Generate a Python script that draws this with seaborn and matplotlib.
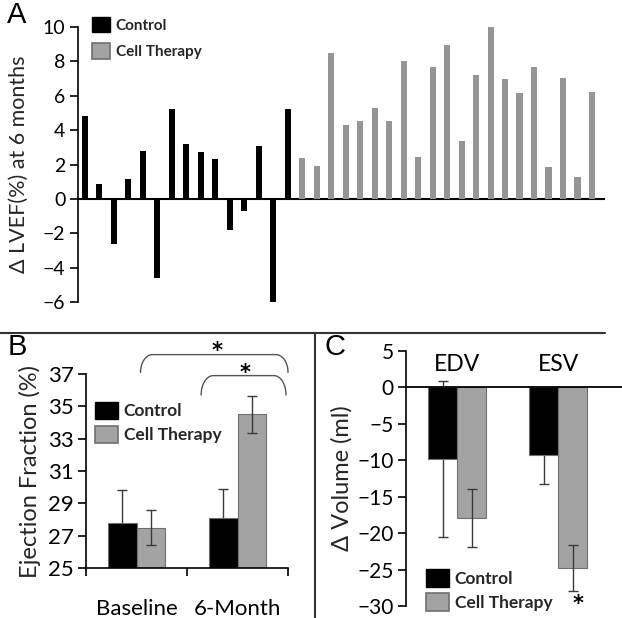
import numpy as np
import pandas as pd
import matplotlib
matplotlib.use('Agg')
import matplotlib.pyplot as plt
import seaborn as sns
from matplotlib.patches import Patch
from matplotlib.lines import Line2D

# Panel A: change in LVEF per patient
control_delta = [4.8, 0.85, -2.6, 1.15, 2.8, -4.6, 5.2, 3.2, 2.7, 2.3, -1.8, -0.7, 3.1, -6.0, 5.25]
cell_delta = [2.35, 1.9, 8.5, 4.3, 4.55, 5.3, 4.55, 8.0, 2.45, 7.7, 8.95, 3.35,
              7.2, 10.0, 7.0, 6.15, 7.7, 1.85, 7.05, 1.3, 6.2]

# Panel B: ejection fraction
timepoints = ['Baseline', '6-Month']
ef_control = [27.8, 28.1]
ef_control_err = [2.0, 1.8]
ef_cell = [27.5, 34.5]
ef_cell_err = [1.1, 1.15]

# Panel C: change in volumes
volumes = ['EDV', 'ESV']
vol_control = [-9.8, -9.3]
vol_control_err = [10.7, 3.9]
vol_cell = [-17.9, -24.8]
vol_cell_err = [4.0, 3.2]

groups = ['Control', 'Cell Therapy']
BLACK = '#000000'
GRAY_A = '#959595'
GRAY = '#a3a3a3'
EDGE = '#6f6f6f'

sns.set_theme(style='white')
plt.rcParams['font.family'] = ['Lato', 'DejaVu Sans']

W, H = 622, 618
fig = plt.figure(figsize=(W / 100, H / 100), dpi=100)


def box(x0, x1, ytop, ybot):
    return [x0 / W, 1 - ybot / H, (x1 - x0) / W, (ybot - ytop) / H]


def style_left(ax, size):
    sns.despine(ax=ax, bottom=True)
    ax.spines['left'].set_color('black')
    ax.spines['left'].set_linewidth(1.2)
    ax.tick_params(axis='y', left=True, length=6, width=1.2, color='black',
                   labelsize=size, pad=3, labelcolor='black')


def legend(ax, x, y, size, hl, hh, spacing):
    handles = [Patch(facecolor=BLACK, edgecolor=BLACK),
               Patch(facecolor=GRAY, edgecolor=EDGE, linewidth=1.2)]
    ax.legend(handles, groups, loc='upper left', bbox_to_anchor=(x / W, 1 - y / H),
              bbox_transform=fig.transFigure, frameon=False, borderpad=0,
              borderaxespad=0, handlelength=hl, handleheight=hh,
              handletextpad=0.35, labelspacing=spacing,
              prop={'weight': 'bold', 'size': size})


def star(x, y):
    fig.text(x / W, 1 - y / H, '*', ha='center', va='center', fontsize=15,
             fontweight='bold', family='DejaVu Sans', color='black')


# ---------------- Panel A ----------------
axA = fig.add_axes(box(78, 605, 27, 302))
dfA = pd.DataFrame({
    'subject': np.arange(len(control_delta) + len(cell_delta)),
    'delta': control_delta + cell_delta,
    'group': ['Control'] * len(control_delta) + ['Cell Therapy'] * len(cell_delta),
})
sns.barplot(data=dfA, x='subject', y='delta', hue='group', dodge=False, width=0.42,
            palette={'Control': BLACK, 'Cell Therapy': GRAY_A}, legend=False,
            linewidth=0, ax=axA)
axA.set_xlim(-0.48, 35.9)
axA.set_ylim(-6, 10)
axA.set_yticks(range(-6, 11, 2))
axA.set_xticks([])
axA.set_xlabel('')
axA.axhline(0, color='black', lw=1.5, zorder=0)
axA.set_ylabel('Δ LVEF(%) at 6 months', fontsize=15.5, labelpad=10)
style_left(axA, 14)
legend(axA, 92, 17, 11, 1.2, 1.15, 0.7)

# ---------------- Panel B ----------------
axB = fig.add_axes(box(86, 288, 374, 568))
dfB = pd.DataFrame({
    'time': timepoints * 2,
    'ef': ef_control + ef_cell,
    'group': ['Control'] * 2 + ['Cell Therapy'] * 2,
})
sns.barplot(data=dfB, x='time', y='ef', hue='group', width=0.56,
            palette={'Control': BLACK, 'Cell Therapy': GRAY}, legend=False,
            edgecolor=EDGE, linewidth=0.8, ax=axB)
xpos = np.arange(len(timepoints))
axB.errorbar(xpos - 0.14, ef_control, yerr=ef_control_err, fmt='none', zorder=0.5,
             ecolor='#3a3a3a', elinewidth=1, capsize=3.5, capthick=1)
axB.errorbar(xpos + 0.14, ef_cell, yerr=ef_cell_err, fmt='none', zorder=3,
             ecolor='#3a3a3a', elinewidth=1, capsize=3.5, capthick=1)
axB.set_xlim(-0.5, 1.5)
axB.set_ylim(25, 37)
axB.set_yticks(range(25, 38, 2))
axB.set_xlabel('')
axB.set_ylabel('Ejection Fraction (%)', fontsize=17, labelpad=5)
sns.despine(ax=axB)
axB.spines['left'].set_color('black')
axB.spines['bottom'].set_color('black')
axB.spines['left'].set_linewidth(1.2)
axB.spines['bottom'].set_linewidth(1.2)
axB.tick_params(axis='y', left=True, length=6, width=1.2, color='black',
                labelsize=16, pad=3, labelcolor='black')
axB.set_xticks([-0.5, 0.5, 1.5], minor=True)
axB.tick_params(axis='x', which='minor', bottom=True, length=6, width=1.2, color='black')
axB.tick_params(axis='x', which='major', bottom=False, labelsize=16, pad=16,
                labelcolor='black')
legend(axB, 95, 402, 12.5, 1.3, 1.1, 0.4)


def bracket(ax, x0, x1, ytop, ydrop):
    t = np.linspace(0, 1, 60)
    r = 0.12
    xs = np.concatenate([x0 + r * (1 - np.cos(t * np.pi / 2)),
                         [x0 + r, x1 - r],
                         x1 - r + r * np.sin(t * np.pi / 2)])
    ys = np.concatenate([ytop - ydrop + ydrop * np.sin(t * np.pi / 2),
                         [ytop, ytop],
                         ytop - ydrop * (1 - np.cos(t * np.pi / 2))])
    ax.plot(xs, ys, color='#555555', lw=1, clip_on=False)


bracket(axB, 0.04, 1.5, 38.2, 1.1)
bracket(axB, 0.64, 1.48, 36.9, 1.2)
star(217, 351)
star(245, 373)

# ---------------- Panel C ----------------
axC = fig.add_axes(box(406, 622, 351, 606))
dfC = pd.DataFrame({
    'vol': volumes * 2,
    'delta': vol_control + vol_cell,
    'group': ['Control'] * 2 + ['Cell Therapy'] * 2,
})
sns.barplot(data=dfC, x='vol', y='delta', hue='group', width=0.575,
            palette={'Control': BLACK, 'Cell Therapy': GRAY}, legend=False,
            edgecolor=EDGE, linewidth=0.8, ax=axC)
xpos = np.arange(len(volumes))
axC.errorbar(xpos - 0.144, vol_control, yerr=vol_control_err, fmt='none', zorder=0.5,
             ecolor='#3a3a3a', elinewidth=1, capsize=3.5, capthick=1)
axC.errorbar(xpos + 0.144, vol_cell, yerr=vol_cell_err, fmt='none', zorder=3,
             ecolor='#3a3a3a', elinewidth=1, capsize=3.5, capthick=1)
axC.set_xlim(-0.505, 1.63)
axC.set_ylim(-30, 5)
axC.set_yticks(range(-30, 6, 5))
axC.set_xticks([])
axC.set_xlabel('')
axC.axhline(0, color='black', lw=1.3, zorder=3)
axC.set_ylabel('Δ Volume (ml)', fontsize=17, labelpad=3)
style_left(axC, 15)
for i, name in enumerate(volumes):
    axC.text(i, 3.2, name, ha='center', va='center', fontsize=16.5, color='black')
star(578, 604)
legend(axC, 426, 569, 12.5, 1.3, 1.2, 0.35)

# ---------------- separators and panel letters ----------------
ysep = 1 - 333 / H
fig.add_artist(Line2D([0, 605 / W], [ysep, ysep], color='#333333', lw=1.5))
fig.add_artist(Line2D([315 / W, 315 / W], [0, ysep], color='#333333', lw=1.5))
for letter, x, y in [('A', 17, 15), ('B', 17, 347), ('C', 335, 347)]:
    fig.text(x / W, 1 - y / H, letter, ha='center', va='center', fontsize=21,
             family='Liberation Sans', color='black')

fig.savefig('out.png', dpi=100)
